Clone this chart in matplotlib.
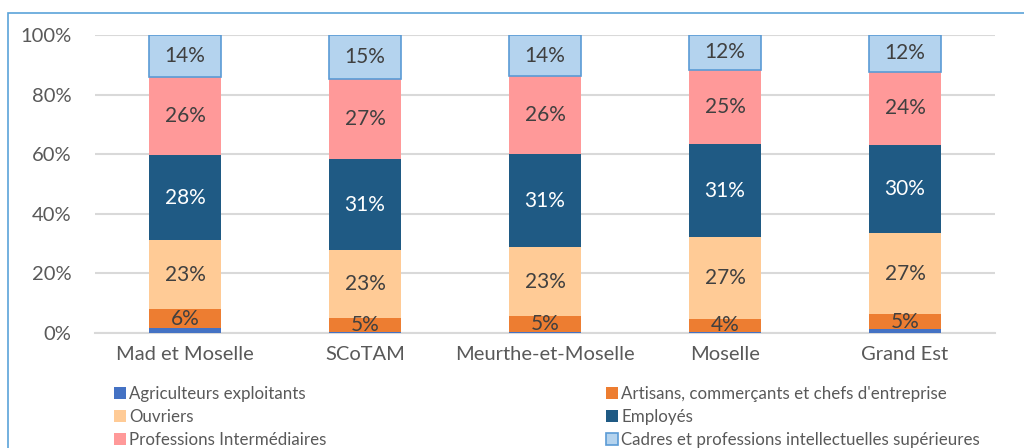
import numpy as np
import matplotlib.pyplot as plt
from matplotlib.patches import Rectangle

plt.rcParams['font.family'] = ['Lato', 'DejaVu Sans']

territoires = ['Mad et Moselle', 'SCoTAM', 'Meurthe-et-Moselle', 'Moselle', 'Grand Est']

categories = ['Agriculteurs exploitants',
              "Artisans, commerçants et chefs d'entreprise",
              'Ouvriers',
              'Employés',
              'Professions Intermédiaires',
              'Cadres et professions intellectuelles supérieures']

# shares in %
agriculteurs = [1.7, 0.3, 0.4, 0.5, 1.2]
artisans = [6.2, 4.9, 5.2, 4.2, 5.2]
ouvriers = [23.3, 22.6, 23.2, 27.4, 27.0]
employes = [28.4, 30.6, 31.2, 31.3, 29.8]
prof_inter = [26.4, 26.8, 26.1, 24.9, 24.4]
cadres = [14.0, 14.8, 13.9, 11.7, 12.4]

series = [agriculteurs, artisans, ouvriers, employes, prof_inter, cadres]
colours = ['#4472C4', '#ED7D31', '#FFCB96', '#1F5A84', '#FF9999', '#B4D3EE']
edges = [None, None, None, None, None, '#5B9BD5']
label_colours = [None, '#404040', '#404040', 'white', '#404040', '#404040']

fig = plt.figure(figsize=(10.24, 4.48), dpi=100)
ax = fig.add_axes([95 / 1024, 1 - 333 / 448, 900 / 1024, 298 / 448])

# outer frame of the chart area
fig.patches.append(Rectangle((8 / 1024, -0.1), 1.2, 1 - 13 / 448 + 0.1,
                             transform=fig.transFigure, fill=False,
                             edgecolor='#5BA3D9', linewidth=1.2))

x = np.arange(len(territoires))
bottom = np.zeros(len(territoires))
handles = []
for vals, col, ec, lc, name in zip(series, colours, edges, label_colours, categories):
    v = np.array(vals) / 100
    bars = ax.bar(x, v, 0.4, bottom=bottom, color=col,
                  edgecolor=ec if ec else col, linewidth=1.2 if ec else 0,
                  label=name, zorder=3)
    handles.append(bars)
    if lc:
        for xi, b, h, raw in zip(x, bottom, v, vals):
            ax.text(xi, b + h / 2, f'{raw:.0f}%', ha='center', va='center',
                    color=lc, fontsize=15, zorder=4)
    bottom += v

ax.set_xlim(-0.5, 4.5)
ax.set_ylim(0, 1)
ax.set_yticks(np.arange(0, 1.01, 0.2))
ax.set_yticklabels([f'{int(t * 100)}%' for t in np.arange(0, 1.01, 0.2)])
ax.set_xticks(x)
ax.set_xticklabels(territoires)
ax.tick_params(length=0, labelsize=14.5, labelcolor='#595959')
ax.tick_params(axis='y', pad=17)
ax.tick_params(axis='x', pad=9)
ax.yaxis.grid(True, color='#D9D9D9', linewidth=1.5, zorder=0)
for s in ['top', 'right', 'left']:
    ax.spines[s].set_visible(False)
ax.spines['bottom'].set_color('#D9D9D9')
ax.spines['bottom'].set_linewidth(1.5)

order = [0, 2, 4, 1, 3, 5]
leg = fig.legend([handles[i] for i in order], [categories[i] for i in order],
                 ncol=2, loc='upper left', bbox_to_anchor=(114 / 1024, 1 - 386 / 448),
                 frameon=False, fontsize=12.2, handlelength=0.7, handleheight=0.7,
                 handletextpad=0.2, columnspacing=16.5, labelspacing=0.42,
                 borderaxespad=0, borderpad=0, labelcolor='#595959')

fig.savefig('out.png', dpi=100)
